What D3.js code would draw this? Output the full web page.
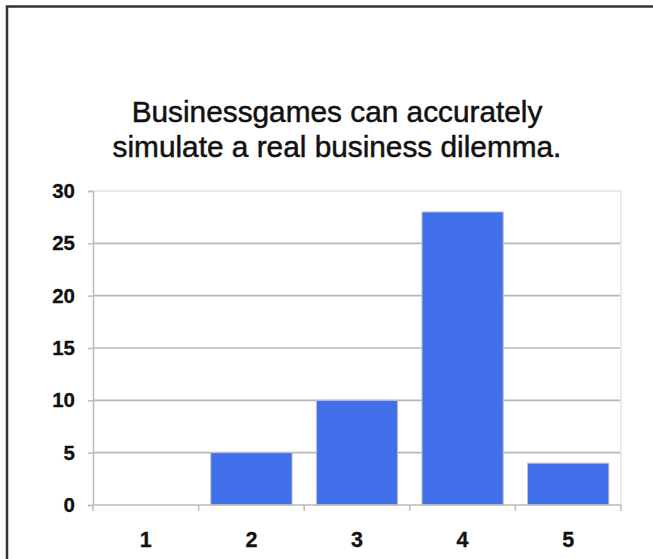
<!DOCTYPE html>
<html>
<head>
<meta charset="utf-8">
<script src="https://cdn.jsdelivr.net/npm/d3@7"></script>
<style>
  body { margin: 0; background: #fff; }
  text { font-family: Arial, "Liberation Sans", Helvetica, sans-serif; fill: #111; }
</style>
</head>
<body>
<svg id="chart"></svg>
<script>
const categories = ["1", "2", "3", "4", "5"];
const counts = [0, 5, 10, 28, 4];
const yTicks = [0, 5, 10, 15, 20, 25, 30];
const titleLines = ["Businessgames can accurately", "simulate a real business dilemma."];

const width = 653;
const height = 559;

const svg = d3.select("#chart")
    .attr("width", width)
    .attr("height", height);

// outer frame (runs off the right and bottom edges)
svg.append("rect")
    .attr("x", 7)
    .attr("y", 6.5)
    .attr("width", 700)
    .attr("height", 600)
    .attr("fill", "none")
    .attr("stroke", "#333")
    .attr("stroke-width", 2.5);

const plot = { left: 93, right: 621, top: 191, bottom: 505 };

const x = d3.scaleBand()
    .domain(categories)
    .range([plot.left, plot.right])
    .paddingInner(0.23)
    .paddingOuter(0.115);

const y = d3.scaleLinear()
    .domain([0, 30])
    .range([plot.bottom, plot.top]);

// title
svg.append("text")
    .attr("text-anchor", "middle")
    .attr("font-size", 29.8)
    .attr("stroke", "#111")
    .attr("stroke-width", 0.5)
    .selectAll("tspan")
    .data(titleLines)
    .enter()
    .append("tspan")
    .attr("x", 337)
    .attr("y", (d, i) => 122 + i * 35)
    .text(d => d);

// gridlines
svg.append("g")
    .selectAll("line")
    .data(yTicks.filter(t => t > 0))
    .enter()
    .append("line")
    .attr("x1", plot.left)
    .attr("x2", plot.right)
    .attr("y1", d => y(d))
    .attr("y2", d => y(d))
    .attr("stroke", d => d === 30 ? "#e4e4e4" : "#b8b8b8")
    .attr("stroke-width", 1.6);

// right border of plot
svg.append("line")
    .attr("x1", plot.right).attr("x2", plot.right)
    .attr("y1", plot.top).attr("y2", plot.bottom)
    .attr("stroke", "#e4e4e4")
    .attr("stroke-width", 1.5);

// y axis
const yAxis = svg.append("g")
    .attr("transform", `translate(${plot.left},0)`)
    .call(d3.axisLeft(y).tickValues(yTicks).tickSize(5).tickPadding(13));
yAxis.select(".domain").attr("stroke", "#bbb").attr("stroke-width", 1.5);
yAxis.selectAll(".tick line").attr("stroke", "#bbb").attr("stroke-width", 1.5);
yAxis.selectAll(".tick text")
    .attr("font-size", 20.5)
    .attr("font-weight", "bold")
    .attr("fill", "#111")
    .attr("stroke", "#111")
    .attr("stroke-width", 0.3)
    .attr("font-family", "Arial, 'Liberation Sans', sans-serif");

// bars
svg.append("g")
    .selectAll("rect")
    .data(categories.map((c, i) => ({ c, v: counts[i] })).filter(d => d.v > 0))
    .enter()
    .append("rect")
    .attr("x", d => x(d.c))
    .attr("y", d => y(d.v))
    .attr("width", x.bandwidth())
    .attr("height", d => y(0) - y(d.v))
    .attr("fill", "#4170ea")
    .attr("stroke", "#c4c4c4")
    .attr("stroke-width", 1);

// x axis baseline and boundary ticks
svg.append("line")
    .attr("x1", plot.left).attr("x2", plot.right)
    .attr("y1", plot.bottom).attr("y2", plot.bottom)
    .attr("stroke", "#bbb")
    .attr("stroke-width", 1.5);

const step = x.step();
svg.append("g")
    .selectAll("line")
    .data(d3.range(categories.length + 1))
    .enter()
    .append("line")
    .attr("x1", i => plot.left + i * step)
    .attr("x2", i => plot.left + i * step)
    .attr("y1", plot.bottom)
    .attr("y2", plot.bottom + 6)
    .attr("stroke", "#bbb")
    .attr("stroke-width", 1.5);

svg.append("g")
    .selectAll("text")
    .data(categories)
    .enter()
    .append("text")
    .attr("x", d => x(d) + x.bandwidth() / 2)
    .attr("y", 547)
    .attr("text-anchor", "middle")
    .attr("font-size", 21.5)
    .attr("font-weight", "bold")
    .attr("stroke", "#111")
    .attr("stroke-width", 0.3)
    .text(d => d);
</script>
</body>
</html>
